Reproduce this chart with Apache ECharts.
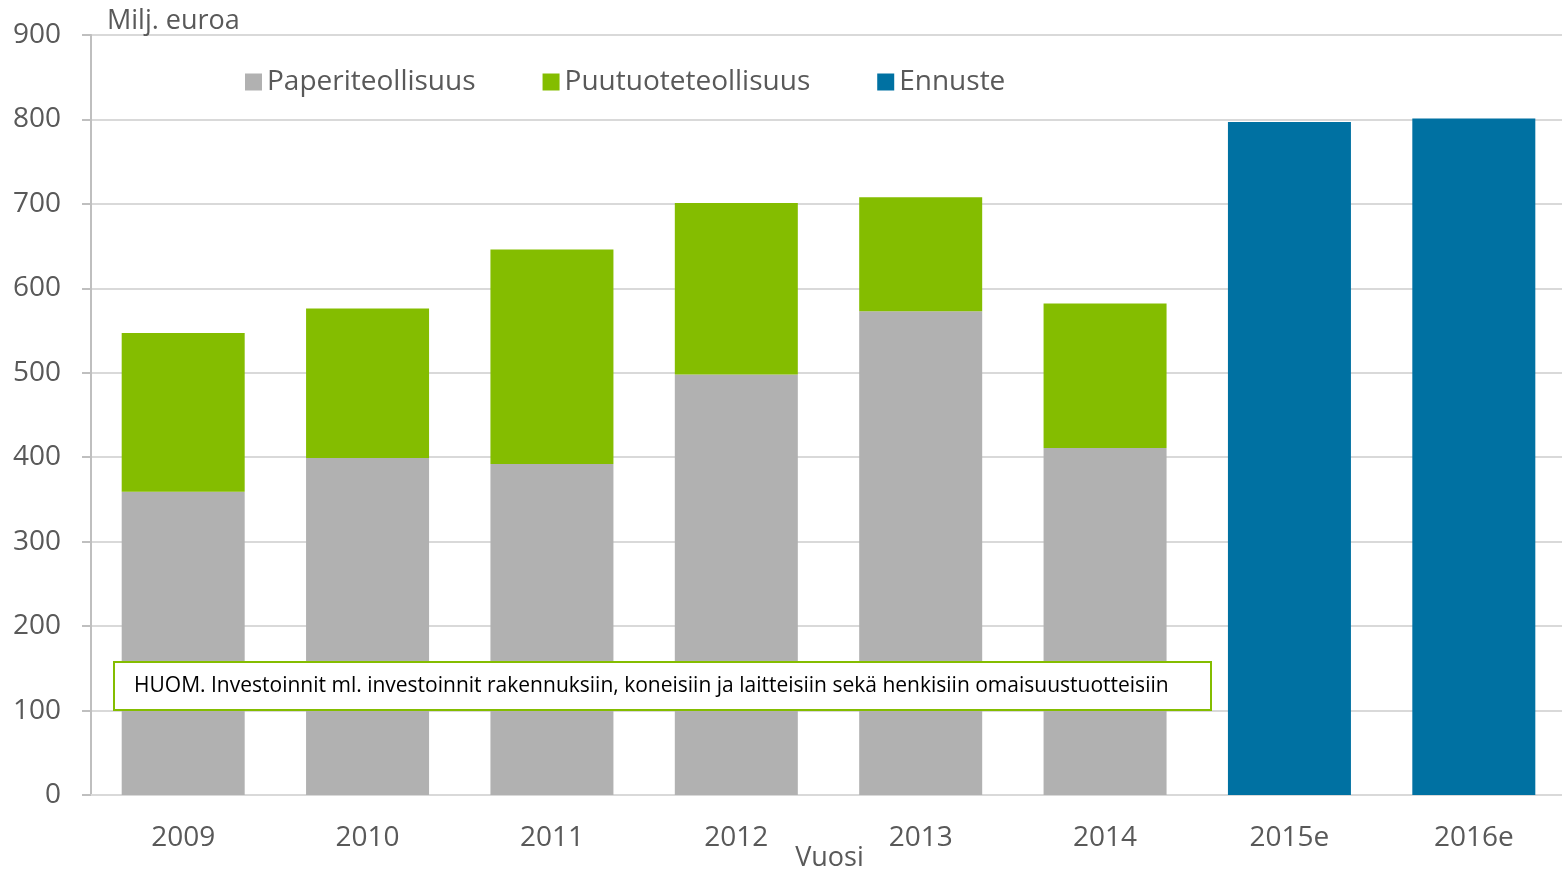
<!DOCTYPE html>
<html>
<head>
<meta charset="utf-8">
<title>Investoinnit</title>
<style>
  html, body { margin: 0; padding: 0; background: #fff; }
  #chart { width: 1562px; height: 869px; }
</style>
</head>
<body>
<div id="chart"></div>
<script src="https://cdn.jsdelivr.net/npm/echarts@6/dist/echarts.min.js"></script>
<script>
var years = ['2009', '2010', '2011', '2012', '2013', '2014', '2015e', '2016e'];
var paperi = [359, 399, 392, 498, 573, 411, '-', '-'];
var puutuote = [188, 177, 254, 203, 135, 171, '-', '-'];
var ennuste = ['-', '-', '-', '-', '-', '-', 797, 801];
var yTicks = [0, 100, 200, 300, 400, 500, 600, 700, 800, 900];

var textColor = '#595959';
var font = '"Open Sans", "Noto Sans", sans-serif';

var chart = echarts.init(document.getElementById('chart'));
chart.setOption({
  animation: false,
  textStyle: { fontFamily: font },
  grid: { left: 91, top: 35, width: 1475, bottom: 74, containLabel: false, outerBoundsMode: 'none' },
  legend: {
    top: 63,
    left: 240,
    itemWidth: 17,
    itemHeight: 17,
    itemGap: 67,
    icon: 'rect',
    textStyle: { fontSize: 28, color: textColor, fontFamily: font },
    data: ['Paperiteollisuus', 'Puutuoteteollisuus', 'Ennuste']
  },
  xAxis: {
    type: 'category',
    data: years,
    name: 'Vuosi',
    nameLocation: 'middle',
    nameGap: 50,
    nameMoveOverlap: false,
    nameTextStyle: { fontSize: 27, color: textColor, padding: [0, 0, 0, 2] },
    axisLine: { lineStyle: { color: '#d9d9d9', width: 2 } },
    axisTick: { show: false },
    axisLabel: { fontSize: 28, color: textColor, margin: 29 }
  },
  yAxis: {
    type: 'value',
    min: yTicks[0],
    max: yTicks[yTicks.length - 1],
    interval: 100,
    name: 'Milj. euroa',
    nameLocation: 'end',
    nameGap: 0,
    nameTextStyle: { fontSize: 27, color: textColor, align: 'left', padding: [0, 0, 0, 16] },
    axisLine: { show: true, lineStyle: { color: '#bfbfbf', width: 2 } },
    axisTick: { show: true, length: 9, lineStyle: { color: '#bfbfbf', width: 2 } },
    axisLabel: { fontSize: 28, color: textColor, margin: 30 },
    splitLine: { lineStyle: { color: '#d9d9d9', width: 2 } }
  },
  series: [
    { name: 'Paperiteollisuus', type: 'bar', stack: 'a', data: paperi, barWidth: 123,
      itemStyle: { color: '#b1b1b1' } },
    { name: 'Puutuoteteollisuus', type: 'bar', stack: 'a', data: puutuote, barWidth: 123,
      itemStyle: { color: '#84bd00' } },
    { name: 'Ennuste', type: 'bar', stack: 'a', data: ennuste, barWidth: 123,
      itemStyle: { color: '#0071a2' } }
  ],
  graphic: [{
    type: 'group',
    left: 113,
    top: 661,
    z: 100,
    children: [{
      type: 'rect',
      z: 100,
      shape: { x: 0, y: 0, width: 1097, height: 48 },
      style: { fill: '#fff', stroke: '#84bd00', lineWidth: 2 }
    }, {
      type: 'text',
      z: 101,
      x: 20,
      y: 24,
      style: {
        text: 'HUOM. Investoinnit ml. investoinnit rakennuksiin, koneisiin ja laitteisiin sekä henkisiin omaisuustuotteisiin',
        fill: '#000',
        font: '21px "Open Sans", "Noto Sans", sans-serif',
        verticalAlign: 'middle'
      }
    }]
  }]
});
</script>
</body>
</html>
